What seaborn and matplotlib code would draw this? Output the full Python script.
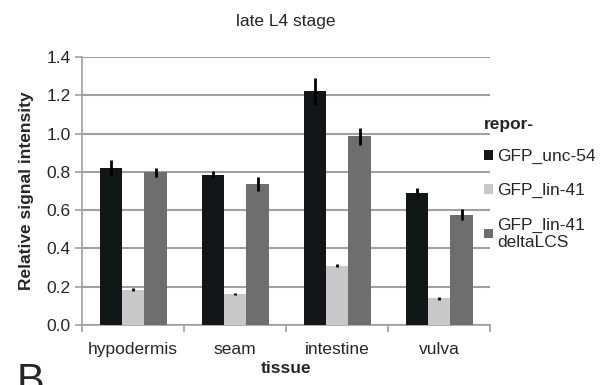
import matplotlib
matplotlib.use("Agg")
import matplotlib.pyplot as plt
import seaborn as sns
import pandas as pd
import numpy as np
from matplotlib.patches import Patch

tissues = ["hypodermis", "seam", "intestine", "vulva"]
reporters = ["GFP_unc-54", "GFP_lin-41", "GFP_lin-41\ndeltaLCS"]
unc54 = [0.82, 0.785, 1.22, 0.69]
unc54_err = [0.04, 0.018, 0.07, 0.028]
lin41 = [0.183, 0.162, 0.31, 0.139]
lin41_err = [0.008, 0.005, 0.006, 0.007]
delta = [0.797, 0.737, 0.985, 0.577]
delta_err = [0.022, 0.035, 0.045, 0.03]
colors = ["#121616", "#c8c8c8", "#6e6e6e"]

rows = []
for vals, errs, rep in [(unc54, unc54_err, reporters[0]), (lin41, lin41_err, reporters[1]), (delta, delta_err, reporters[2])]:
    for t, v, e in zip(tissues, vals, errs):
        rows.append(dict(tissue=t, reporter=rep, value=v, err=e))
df = pd.DataFrame(rows)

sns.set_theme(style="white")
plt.rcParams["font.family"] = ["Liberation Sans", "DejaVu Sans"]
FS = 12.5

fig = plt.figure(figsize=(6, 3.85), dpi=100)
ax = fig.add_axes([0.137, 0.156, 0.68, 0.696])

sns.barplot(data=df, x="tissue", y="value", hue="reporter", order=tissues,
            hue_order=reporters, palette=colors, width=0.66, gap=0,
            errorbar=None, ax=ax, legend=False, zorder=3, saturation=1,
            linewidth=0, edgecolor="none")

ordered = df.set_index(["reporter", "tissue"]).loc[
    [(rep, t) for rep in reporters for t in tissues]].reset_index()
for patch, (_, r) in zip(ax.patches, ordered.iterrows()):
    xc = patch.get_x() + patch.get_width() / 2
    ax.errorbar(xc, r["value"], yerr=r["err"], fmt="none", ecolor="black",
                elinewidth=2, capsize=0, zorder=4)

ax.set_ylim(0, 1.4)
ax.set_xlim(-0.5, 3.5)
ax.set_yticks(np.arange(0, 1.41, 0.2))
ax.set_yticklabels([f"{v:.1f}" for v in np.arange(0, 1.41, 0.2)], fontsize=FS)
ax.yaxis.grid(True, color="#a0a0a0", linewidth=1.5, zorder=0)
ax.set_axisbelow(True)
ax.set_xticks(range(4))
ax.set_xticklabels(tissues)
ax.tick_params(axis="x", which="major", length=0, labelsize=FS, pad=12)
ax.set_xticks(np.arange(-0.5, 3.6, 1), minor=True)
ax.tick_params(axis="x", which="minor", length=5, color="#a0a0a0", width=1.2, direction="out", bottom=True)
ax.tick_params(axis="y", length=5, color="#a0a0a0", width=1.2, direction="out", left=True)
for s in ["top", "right"]:
    ax.spines[s].set_visible(False)
for s in ["left", "bottom"]:
    ax.spines[s].set_color("#a0a0a0")
    ax.spines[s].set_linewidth(1.2)

ax.set_xlabel("tissue", fontsize=FS, fontweight="bold", labelpad=3)
ax.set_ylabel("Relative signal intensity", fontsize=FS, fontweight="bold", labelpad=9)
ax.set_title("late L4 stage", fontsize=FS, pad=22)

handles = [Patch(facecolor=c, edgecolor="none") for c in colors]
leg = ax.legend(handles, reporters, title="repor-", loc="upper left",
                bbox_to_anchor=(0.985, 0.775), frameon=False, fontsize=FS,
                handlelength=0.5, handleheight=0.5, handletextpad=0.25,
                labelspacing=1.1, alignment="left", borderpad=0, borderaxespad=0,
                title_fontproperties={"weight": "bold", "size": FS})
leg._legend_box.sep = 12

fig.text(0.028, -0.045, "B", fontsize=30, va="bottom", ha="left")

fig.savefig("out.png", dpi=100)
